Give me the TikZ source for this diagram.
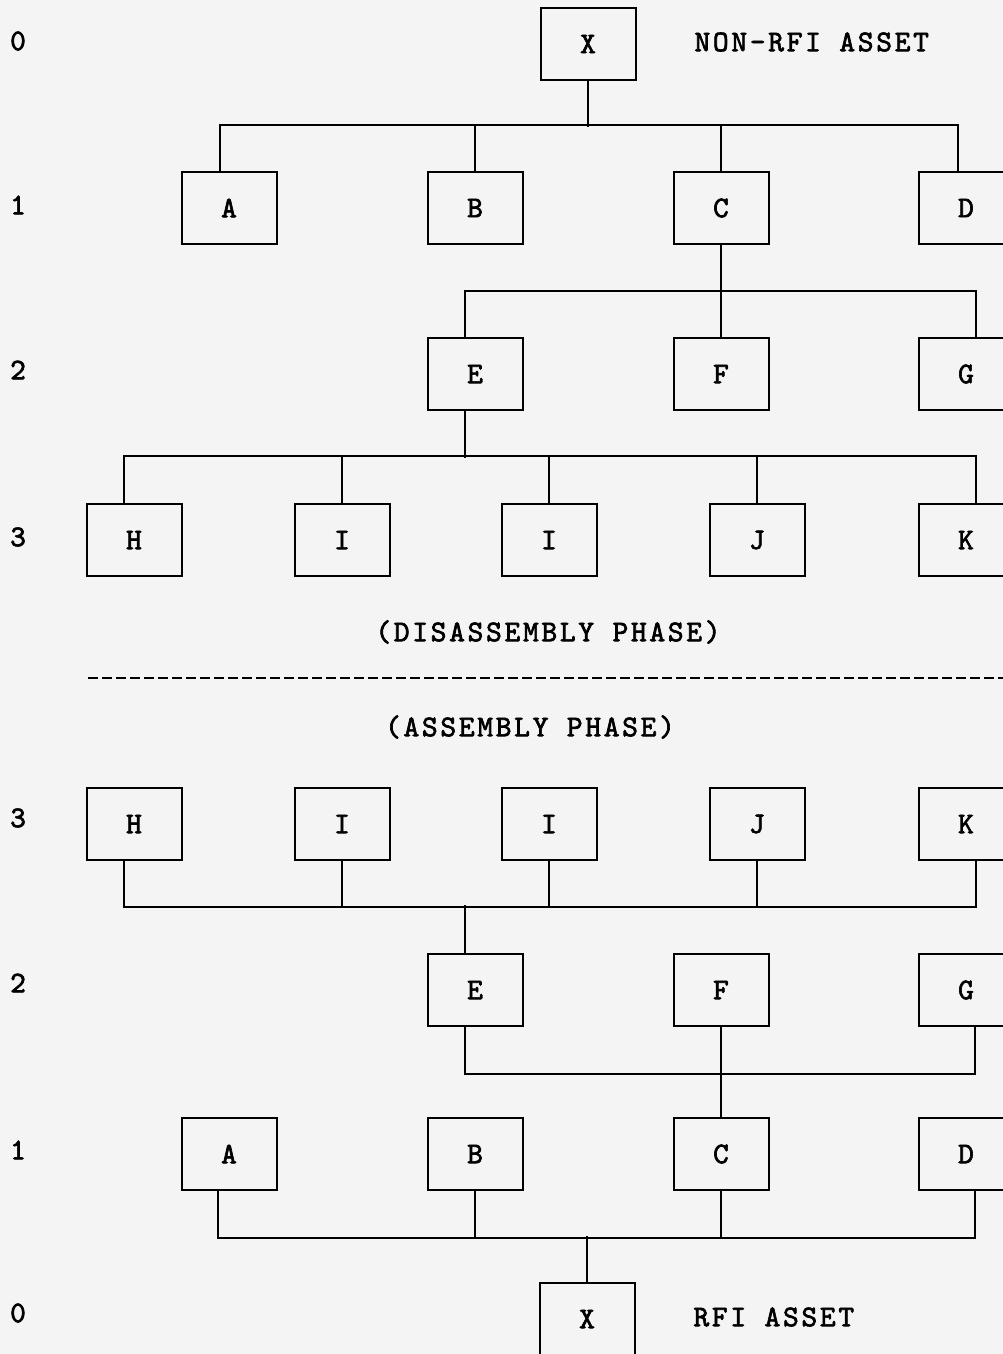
\documentclass[tikz,border=0pt]{standalone}
\usepackage{fontspec}
\usetikzlibrary{positioning}
\definecolor{paper}{HTML}{F4F4F4}
\newfontfamily\typefam{lmmono10-regular.otf}[LetterSpace=9, FakeBold=2.2]
\newcommand{\typew}{\typefam\fontsize{30}{32}\selectfont}

\begin{document}
\begin{tikzpicture}[x=1pt, y=-1pt, line width=2pt,
            part/.style={draw, minimum width=95pt, minimum height=72pt, inner sep=0pt, font=\typew},
            lvl/.style={inner sep=0pt, font=\typew},
            lbl/.style={inner sep=0pt, anchor=west, yshift=2pt, font=\typew}]
            \fill[paper] (0,0) rectangle (1003,1354);
            \useasboundingbox (0,0) rectangle (1003,1354);
            % disassembly phase
            \node[lvl] (t0) at (18,41) {0};
            \node[lvl] (t1) at (18,205) {1};
            \node[lvl] (t2) at (18,370) {2};
            \node[lvl] (t3) at (18,537) {3};
            \node[part] (X) at (588,44) {X};
            \node[lbl, right=57pt of X] (nonrfi) {NON-RFI ASSET};
            \node[part] (A) at (229,208) {A};
            \node[part] (B) at (475,208) {B};
            \node[part] (C) at (721,208) {C};
            \node[part] (D) at (966,208) {D};
            \node[part] (E) at (475,374) {E};
            \node[part] (F) at (721,374) {F};
            \node[part] (G) at (966,374) {G};
            \node[part] (H) at (134,540) {H};
            \node[part] (I) at (342,540) {I};
            \node[part] (I2) at (549,540) {I};
            \node[part] (J) at (757,540) {J};
            \node[part] (K) at (966,540) {K};
            \draw (X.south) -- ++(0,46);
            \draw ([xshift=-9pt]A.north) -- ++(0,-46) -| ([xshift=-8pt]D.north);
            \draw (B.north) -- ++(0,-46); \draw (C.north) -- ++(0,-46);
            \draw (C.south) -- ++(0,46);
            \draw ([xshift=-10pt]E.north) -- ++(0,-46) -| ([xshift=10pt]G.north);
            \draw (F.north) -- ++(0,-46);
            \draw ([xshift=-10pt]E.south) -- ++(0,47);
            \draw ([xshift=-10pt]H.north) -- ++(0,-47) -| ([xshift=10pt]K.north);
            \draw (I.north) -- ++(0,-47); \draw (I2.north) -- ++(0,-47); \draw (J.north) -- ++(0,-47);
            \node[lvl] (dis) at (548,632) {(DISASSEMBLY PHASE)};
            \coordinate (cut0) at (88,678);
            \coordinate (cut1) at (1003,678);
            \draw[line width=2.5pt, dash pattern=on 10pt off 4pt] (cut0) -- (cut1);
            \node[lvl] (asm) at (530,727) {(ASSEMBLY PHASE)};
            % assembly phase
            \node[lvl] (b3) at (18,818) {3};
            \node[lvl] (b2) at (18,983) {2};
            \node[lvl] (b1) at (18,1150) {1};
            \node[lvl] (b0) at (18,1313) {0};
            \node[part] (h) at (134,824) {H};
            \node[part] (i) at (342,824) {I};
            \node[part] (i2) at (549,824) {I};
            \node[part] (j) at (757,824) {J};
            \node[part] (k) at (966,824) {K};
            \node[part] (e) at (475,990) {E};
            \node[part] (f) at (721,990) {F};
            \node[part] (g) at (966,990) {G};
            \node[part] (a) at (229,1154) {A};
            \node[part] (b) at (475,1154) {B};
            \node[part] (c) at (721,1154) {C};
            \node[part] (d) at (966,1154) {D};
            \node[part] (x) at (587,1319) {X};
            \node[lbl, right=57pt of x] (rfi) {RFI ASSET};
            \draw ([xshift=-10pt]h.south) -- ++(0,46) -| ([xshift=10pt]k.south);
            \draw (i.south) -- ++(0,46); \draw (i2.south) -- ++(0,46); \draw (j.south) -- ++(0,46);
            \draw ([xshift=-10pt]e.north) -- ++(0,-48);
            \draw ([xshift=-10pt]e.south) -- ++(0,47) -| ([xshift=9pt]g.south);
            \draw (f.south) -- (c.north);
            \draw ([xshift=-11pt]a.south) -- ++(0,47) -| ([xshift=9pt]d.south);
            \draw (b.south) -- ++(0,47); \draw (c.south) -- ++(0,47);
            \draw (x.north) -- ++(0,-46);
        \end{tikzpicture}
\end{document}
